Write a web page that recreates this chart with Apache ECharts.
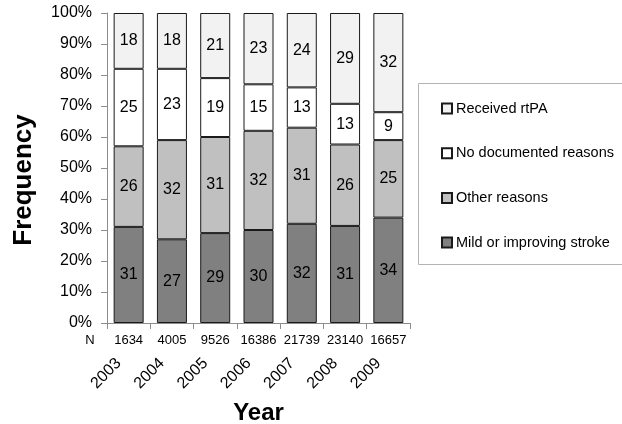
<!DOCTYPE html>
<html>
<head>
<meta charset="utf-8">
<script src="https://cdn.jsdelivr.net/npm/echarts@6/dist/echarts.min.js"></script>
<style>
  html, body { margin: 0; padding: 0; background: #fff; }
  #chart { width: 622px; height: 424px; }
</style>
</head>
<body>
<div id="chart"></div>
<script>
// Reasons for not giving rtPA, by year (percent of patients)
const years = ['2003', '2004', '2005', '2006', '2007', '2008', '2009'];
const patientsN = ['1634', '4005', '9526', '16386', '21739', '23140', '16657'];
const mildStroke = [31, 27, 29, 30, 32, 31, 34];
const otherReasons = [26, 32, 31, 32, 31, 26, 25];
const noDocumented = [25, 23, 19, 15, 13, 13, 9];
const receivedRtpa = [18, 18, 21, 23, 24, 29, 32];
const yTicks = [0, 10, 20, 30, 40, 50, 60, 70, 80, 90, 100];

const FONT = '"Liberation Sans", Arial, sans-serif';

// each column is shown as a share of its own total (100% stacked)
const totals = years.map((_, i) => mildStroke[i] + otherReasons[i] + noDocumented[i] + receivedRtpa[i]);
const asShare = arr => arr.map((v, i) => v / totals[i] * 100);

function barSeries(name, values, color) {
  return {
    name: name,
    type: 'bar',
    stack: 'total',
    barWidth: 30,
    xAxisIndex: 0,
    data: asShare(values),
    itemStyle: { color: color, borderColor: '#1a1a1a', borderWidth: 1 },
    label: {
      show: true,
      position: 'inside',
      color: '#000',
      fontFamily: FONT,
      fontSize: 16,
      formatter: p => String(values[p.dataIndex])
    },
    emphasis: { disabled: true }
  };
}

const chart = echarts.init(document.getElementById('chart'));
chart.setOption({
  animation: false,
  backgroundColor: '#fff',
  grid: { left: 107, top: 13, width: 303, height: 310, containLabel: false, outerBoundsMode: 'none' },
  legend: {
    orient: 'vertical',
    left: 436,
    top: 96,
    itemGap: 29.7,
    itemWidth: 10,
    itemHeight: 10,
    icon: 'rect',
    textStyle: { fontFamily: FONT, fontSize: 14.5, color: '#000', padding: [0, 0, 0, -1] },
    data: ['Received rtPA', 'No documented reasons', 'Other reasons', 'Mild or improving stroke']
  },
  xAxis: [
    {
      type: 'category',
      data: patientsN,
      position: 'bottom',
      axisLine: { lineStyle: { color: '#8c8c8c', width: 1 } },
      axisTick: { show: true, length: 6, lineStyle: { color: '#8c8c8c' } },
      axisLabel: { color: '#000', fontFamily: FONT, fontSize: 13, margin: 11, interval: 0 }
    },
    {
      type: 'category',
      data: years,
      position: 'bottom',
      offset: 22,
      axisLine: { show: false },
      axisTick: { show: false },
      axisLabel: { color: '#000', fontFamily: FONT, fontSize: 16, rotate: 45, margin: 6, interval: 0, padding: [0, 14, 0, 0] },
      name: 'Year',
      nameLocation: 'middle',
      nameGap: 56,
      nameTextStyle: { fontFamily: FONT, fontSize: 24, fontWeight: 'bold', color: '#000' }
    }
  ],
  yAxis: {
    type: 'value',
    min: yTicks[0],
    max: yTicks[yTicks.length - 1],
    interval: 10,
    axisLine: { show: true, lineStyle: { color: '#8c8c8c', width: 1 } },
    axisTick: { show: true, length: 6, lineStyle: { color: '#8c8c8c' } },
    splitLine: { show: false },
    axisLabel: { color: '#000', fontFamily: FONT, fontSize: 16, margin: 15, formatter: '{value}%' }
  },
  graphic: [
    {
      type: 'rect',
      shape: { x: 418.5, y: 83.5, width: 210, height: 181 },
      style: { fill: 'none', stroke: '#b3b3b3', lineWidth: 1 },
      silent: true
    },
    {
      type: 'text',
      x: 90, y: 340,
      style: { text: 'N', fontFamily: FONT, fontSize: 13, fill: '#000', align: 'center', verticalAlign: 'middle' },
      silent: true
    },
    {
      type: 'text',
      x: 24, y: 180,
      rotation: Math.PI / 2,
      style: { text: 'Frequency', fontFamily: FONT, fontSize: 26, fontWeight: 'bold', fill: '#000', align: 'center', verticalAlign: 'middle' },
      silent: true
    }
  ],
  series: [
    barSeries('Mild or improving stroke', mildStroke, '#808080'),
    barSeries('Other reasons', otherReasons, '#c0c0c0'),
    barSeries('No documented reasons', noDocumented, '#ffffff'),
    barSeries('Received rtPA', receivedRtpa, '#f2f2f2')
  ]
});
</script>
</body>
</html>
